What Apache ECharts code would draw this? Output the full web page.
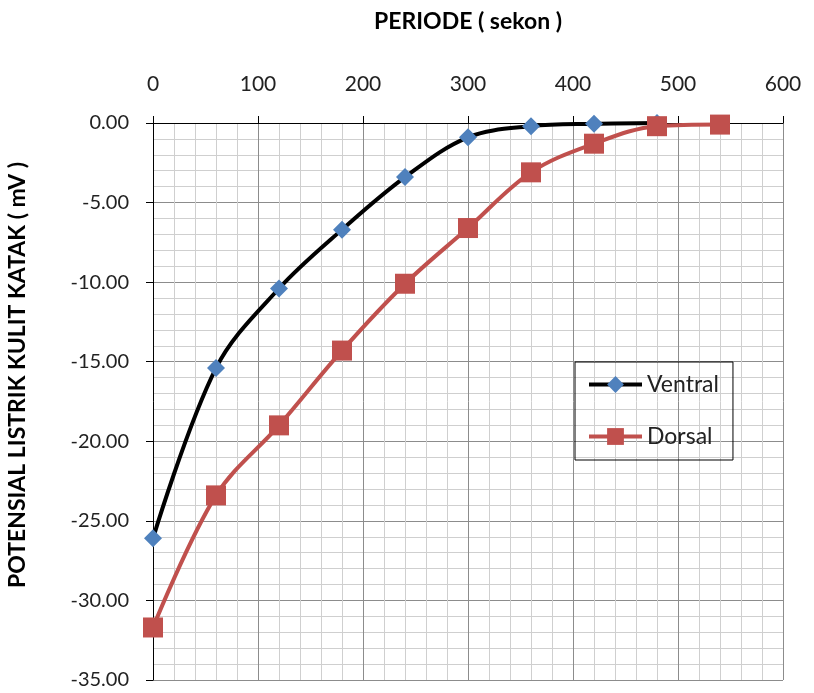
<!DOCTYPE html>
<html>
<head>
<meta charset="utf-8">
<script src="https://cdn.jsdelivr.net/npm/echarts@6/dist/echarts.min.js"></script>
<style>
  html, body { margin: 0; padding: 0; background: #fff; }
  #main { width: 814px; height: 693px; }
</style>
</head>
<body>
<div id="main"></div>
<script>
// periode (detik)
const periode = [0, 60, 120, 180, 240, 300, 360, 420, 480, 540];
// potensial listrik (mV)
const ventral = [-26.1, -15.4, -10.4, -6.7, -3.4, -0.9, -0.2, -0.05, 0];
const dorsal = [-31.7, -23.4, -19.0, -14.3, -10.1, -6.6, -3.1, -1.3, -0.2, -0.1];
const xTicks = [0, 100, 200, 300, 400, 500, 600];
const yTicks = [0, -5, -10, -15, -20, -25, -30, -35];
const yName = 'POTENSIAL LISTRIK KULIT KATAK ( mV )';

const font = 'Lato, "Liberation Sans", sans-serif';

function pairs(ys) {
  return ys.map((v, i) => [periode[i], v]);
}

const chart = echarts.init(document.getElementById('main'));
chart.setOption({
  animation: false,
  backgroundColor: '#fff',
  textStyle: { fontFamily: font },
  grid: { left: 153, right: 31, top: 123, bottom: 13 },
  // judul sumbu Y (sedikit di atas tengah, seperti aslinya)
  graphic: [{
    type: 'text',
    x: 18,
    y: 375,
    rotation: Math.PI / 2,
    style: {
      text: yName,
      fontSize: 23,
      fontWeight: 'bold',
      fontFamily: font,
      fill: '#000',
      align: 'center',
      verticalAlign: 'middle'
    }
  }],
  legend: {
    orient: 'vertical',
    left: 575,
    top: 362,
    padding: [11, 14, 12, 12],
    itemGap: 29,
    itemWidth: 53,
    itemHeight: 21,
    borderColor: '#000',
    borderWidth: 1,
    lineStyle: { width: 4 },
    textStyle: { fontSize: 23, color: '#222', fontFamily: font },
    data: ['Ventral', 'Dorsal']
  },
  xAxis: {
    type: 'value',
    position: 'top',
    min: xTicks[0],
    max: xTicks[xTicks.length - 1],
    interval: 100,
    name: 'PERIODE ( sekon )',
    nameLocation: 'middle',
    nameGap: 90,
    nameTextStyle: { fontSize: 23, fontWeight: 'bold', color: '#000', fontFamily: font },
    axisLine: { onZero: false, lineStyle: { color: '#000', width: 1 } },
    axisTick: { show: true, inside: false, length: 7, lineStyle: { color: '#000' } },
    axisLabel: { fontSize: 21, color: '#222', margin: 28 },
    splitLine: { show: true, lineStyle: { color: '#8c8c8c', width: 1 } },
    minorTick: { show: false, splitNumber: 5 },
    minorSplitLine: { show: true, lineStyle: { color: '#cfcfcf', width: 1 } }
  },
  yAxis: {
    type: 'value',
    min: yTicks[yTicks.length - 1],
    max: yTicks[0],
    interval: 5,
    axisLine: { show: true, onZero: false, lineStyle: { color: '#000', width: 1 } },
    axisTick: { show: true, inside: false, length: 7, lineStyle: { color: '#000' } },
    axisLabel: {
      fontSize: 20, color: '#222', margin: 24,
      formatter: v => v.toFixed(2)
    },
    splitLine: { show: true, lineStyle: { color: '#8c8c8c', width: 1 } },
    minorTick: { show: false, splitNumber: 5 },
    minorSplitLine: { show: true, lineStyle: { color: '#cfcfcf', width: 1 } }
  },
  series: [
    {
      name: 'Ventral',
      type: 'line',
      data: pairs(ventral),
      smooth: 0.35,
      symbol: 'diamond',
      symbolSize: 18,
      z: 2,
      lineStyle: { color: '#000', width: 4 },
      itemStyle: { color: '#4f81bd', borderWidth: 0 }
    },
    {
      name: 'Dorsal',
      type: 'line',
      data: pairs(dorsal),
      smooth: 0.35,
      symbol: 'rect',
      symbolSize: 20,
      z: 3,
      lineStyle: { color: '#c0504d', width: 4 },
      itemStyle: { color: '#c0504d', borderWidth: 0 }
    }
  ]
});
</script>
</body>
</html>
